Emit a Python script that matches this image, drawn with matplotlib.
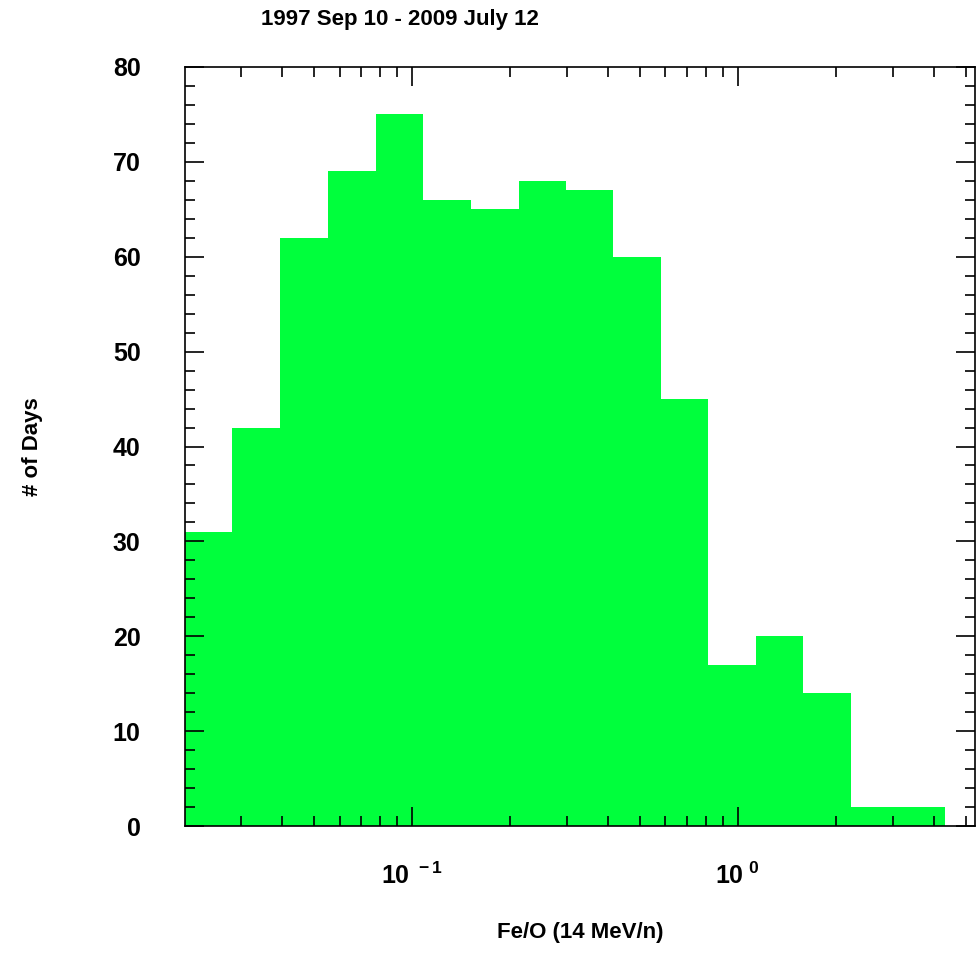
import matplotlib
matplotlib.use("Agg")
import matplotlib.pyplot as plt
import numpy as np
from matplotlib.ticker import LogLocator, MultipleLocator, NullFormatter, FixedLocator

# bin edges (log10 of Fe/O) and counts
log_edges = [-1.696, -1.552, -1.405, -1.258, -1.110, -0.966, -0.819, -0.672, -0.528, -0.383, -0.236, -0.092, 0.055, 0.199, 0.347, 0.491, 0.635]
counts = [31, 42, 62, 69, 75, 66, 65, 68, 67, 60, 45, 17, 20, 14, 2, 2]

edges = 10 ** np.array(log_edges)

plt.rcParams['font.family'] = ['Liberation Sans']
plt.rcParams['mathtext.fontset'] = 'custom'
plt.rcParams['mathtext.bf'] = 'Liberation Sans:bold'
plt.rcParams['mathtext.rm'] = 'Liberation Sans:bold'
plt.rcParams['mathtext.default'] = 'bf'

fig = plt.figure(figsize=(9.77, 9.59), dpi=100)
ax = fig.add_axes([185/977, 1-826/959, (975-185)/977, (826-67)/959])
ax.stairs(counts, edges, fill=True, color='#00ff3c', linewidth=0)
ax.set_xscale('log')
ax.set_xlim(10**-1.696, 10**0.728)
ax.set_ylim(0, 80)
ax.xaxis.set_major_locator(FixedLocator([0.1, 1.0]))
ax.xaxis.set_minor_locator(LogLocator(base=10, subs=np.arange(2, 10)))
ax.xaxis.set_minor_formatter(NullFormatter())
ax.set_xticklabels([r'$10^{\ -1}$', r'$10^{\ 0}$'])
ax.yaxis.set_major_locator(MultipleLocator(10))
ax.yaxis.set_minor_locator(MultipleLocator(2))
ax.tick_params(which='both', direction='in', top=True, right=True, width=1.2)
ax.tick_params(which='major', length=14, labelsize=18)
ax.tick_params(which='minor', length=7)
ax.tick_params(axis='x', pad=26)
ax.tick_params(axis='y', pad=32)
for lbl in ax.get_yticklabels() + ax.get_xticklabels():
    lbl.set_fontweight('bold')
for s in ax.spines.values():
    s.set_linewidth(1.2)
ax.set_xlabel('Fe/O (14 MeV/n)', fontsize=16, fontweight='bold', labelpad=24)
ax.set_ylabel('# of Days', fontsize=16, fontweight='bold', labelpad=50)
fig.text(400/977, 1-20/959, '1997 Sep 10 - 2009 July 12', ha='center', va='center', fontsize=16, fontweight='bold')
fig.savefig('out.png', dpi=100)
